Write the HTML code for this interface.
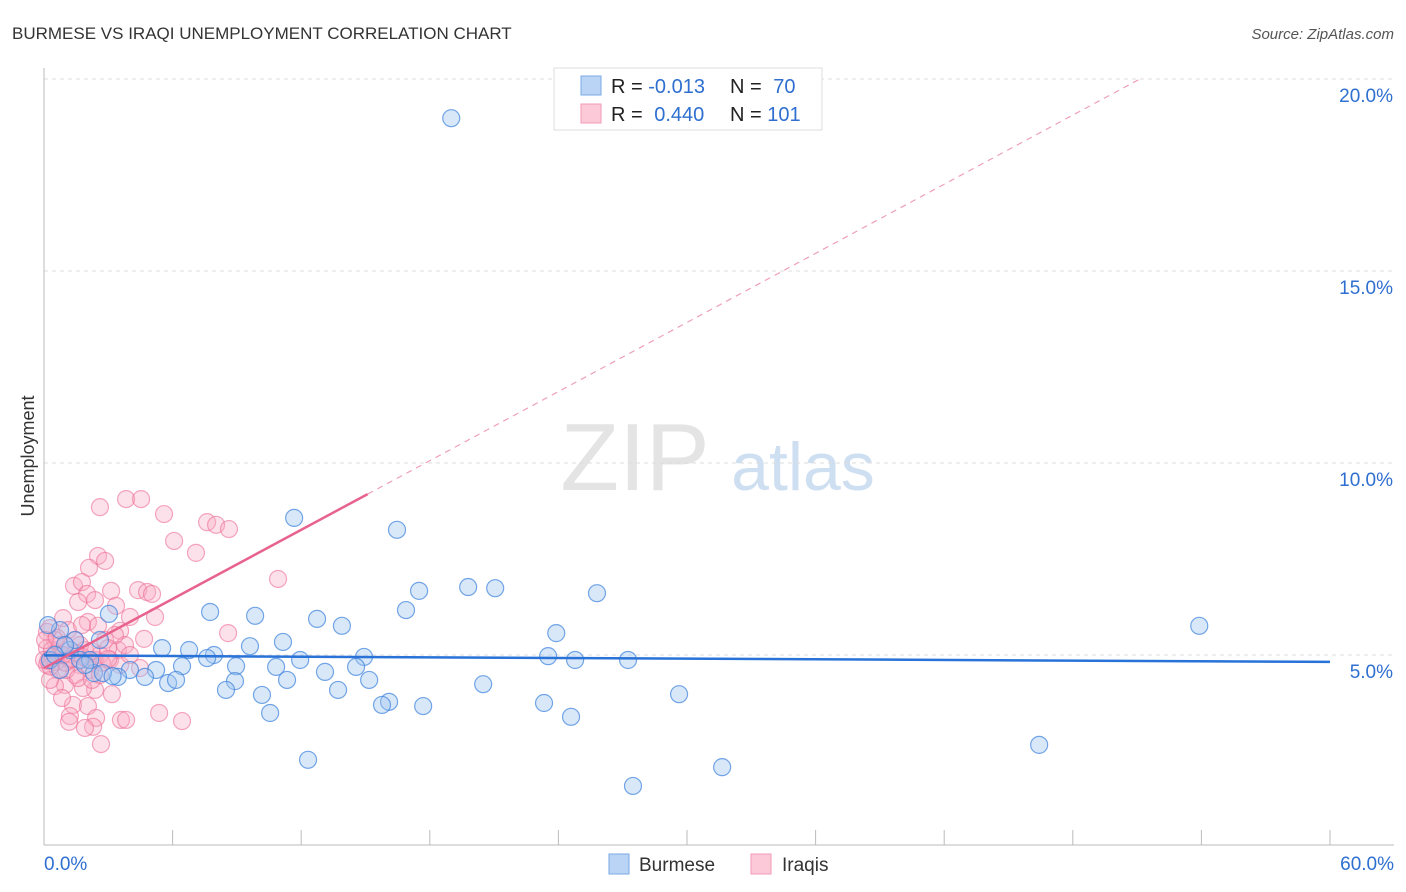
<!DOCTYPE html>
<html><head><meta charset="utf-8"><style>
body{margin:0;background:#fff;font-family:"Liberation Sans",sans-serif;}
#wrap{position:relative;width:1406px;height:892px;overflow:hidden;}
svg text{font-family:"Liberation Sans",sans-serif;}
</style></head><body>
<div id="wrap">
<svg id="chart" width="1406" height="892">
  <text x="12" y="39" font-size="17" fill="#333">BURMESE VS IRAQI UNEMPLOYMENT CORRELATION CHART</text>
  <text x="1394" y="39" font-size="15" fill="#555" font-style="italic" text-anchor="end">Source: ZipAtlas.com</text>
  <text x="34" y="456" font-size="18" fill="#333" text-anchor="middle" transform="rotate(-90 34 456)">Unemployment</text>
  <g>
    <text x="635" y="490" font-size="96" fill="#e4e4e4" font-family="Liberation Serif" text-anchor="middle">ZIP</text>
    <text x="803" y="490" font-size="68" fill="#cfdff2" text-anchor="middle">atlas</text>
  </g>
  <g id="grid"></g>
  <g id="axes"></g>
  <g id="pts"></g>
  <g id="trend"></g>
  <g>
    <rect x="554" y="68" width="268" height="62" fill="#fff" stroke="#ddd"/>
    <rect x="581" y="76" width="20" height="19" fill="#b9d4f5" stroke="#7aaae6"/>
    <rect x="581" y="104" width="20" height="19" fill="#fcc9d8" stroke="#f09ab4"/>
    <text x="611" y="93" font-size="20" fill="#222">R = <tspan fill="#2e6fd0">-0.013</tspan></text>
    <text x="730" y="93" font-size="20" fill="#222">N = <tspan fill="#2e6fd0" dx="6">70</tspan></text>
    <text x="611" y="121" font-size="20" fill="#222">R = <tspan fill="#2e6fd0" dx="6">0.440</tspan></text>
    <text x="730" y="121" font-size="20" fill="#222">N = <tspan fill="#2e6fd0">101</tspan></text>
  </g>
  <g>
    <rect x="609" y="854" width="20" height="20" fill="#b9d4f5" stroke="#7aaae6"/>
    <text x="639" y="871" font-size="19" fill="#333">Burmese</text>
    <rect x="751" y="854" width="20" height="20" fill="#fcc9d8" stroke="#f09ab4"/>
    <text x="782" y="871" font-size="19" fill="#333">Iraqis</text>
  </g>
</svg>
</div>
<script>
const yTicks=[5,10,15,20];
const yTickLabels=["5.0%","10.0%","15.0%","20.0%"];
const xTickLabels=["0.0%","60.0%"];
const burmeseX=[19.0,11.67,16.47,19.79,21.05,17.5,25.8,16.89,7.75,9.85,3.03,12.74,13.9,23.9,53.9,11.15,9.61,5.51,6.77,7.93,8.96,11.95,14.93,23.52,24.78,27.25,10.83,6.44,5.23,7.61,13.11,14.56,4.01,2.33,3.45,4.71,5.79,6.16,8.91,11.34,15.17,20.49,8.49,10.17,13.72,29.63,16.1,15.77,17.69,23.33,10.55,24.59,46.43,12.32,31.64,27.48,2.61,0.75,1.21,0.28,1.68,2.15,0.19,0.75,2.75,1.45,0.98,0.51,1.91,3.2];
const burmeseY=[18.98,8.57,8.26,6.77,6.74,6.67,6.61,6.17,6.12,6.02,6.07,5.94,5.76,5.57,5.76,5.34,5.23,5.18,5.13,5.0,4.71,4.87,4.95,4.97,4.87,4.87,4.69,4.71,4.61,4.92,4.56,4.69,4.61,4.53,4.43,4.43,4.27,4.35,4.32,4.35,4.35,4.24,4.09,3.96,4.09,3.98,3.78,3.70,3.67,3.75,3.49,3.39,2.66,2.27,2.08,1.59,5.39,5.65,5.13,4.87,4.87,4.87,5.78,4.61,4.53,5.39,5.26,5.0,4.74,4.45];
const iraqiX=[2.61,3.83,4.53,5.6,7.61,8.03,8.63,6.07,7.09,2.52,2.85,2.1,1.4,1.77,3.13,4.39,4.81,5.04,2.01,1.59,10.92,0.89,2.05,2.52,4.01,5.18,3.55,4.67,8.59,0.28,0.51,0.98,1.45,1.91,2.61,3.45,3.78,1.21,1.68,0.28,0.65,0.75,2.38,3.08,3.55,4.48,1.45,2.15,0.98,0.51,2.38,3.17,1.82,1.35,2.05,1.21,2.43,2.29,1.91,1.17,3.59,3.83,5.37,6.44,2.66,0.14,0.14,0.14,0.37,0.75,1.12,1.68,2.05,2.85,3.31,4.01,0.05,0.28,0.84,0.0,0.56,1.03,1.59,2.24,2.61,2.99,1.77,2.38,3.36,0.4,1.0,1.5,0.3,0.6,2.7,1.3,0.9,0.2,1.8,2.2,3.0];
const iraqiY=[8.85,9.06,9.06,8.67,8.46,8.39,8.28,7.97,7.66,7.58,7.45,7.27,6.8,6.9,6.67,6.69,6.64,6.59,6.59,6.38,6.98,5.96,5.86,5.76,5.99,5.99,5.63,5.42,5.57,5.70,5.39,5.26,5.39,5.13,5.0,5.13,5.26,4.87,4.74,4.87,4.61,5.0,4.87,4.87,4.74,4.66,4.48,4.61,4.22,4.19,4.09,3.98,4.14,3.70,3.67,3.41,3.36,3.13,3.10,3.26,3.31,3.31,3.49,3.28,2.68,5.60,5.18,4.74,5.13,5.26,5.65,5.26,4.87,5.39,5.52,5.0,5.39,4.35,3.88,4.87,4.82,4.61,4.40,4.35,4.48,5.18,5.78,6.43,6.28,4.95,4.8,5.05,4.7,5.45,4.8,4.9,5.0,4.85,4.95,5.1,4.9];
const blueTrend=[4.99,4.82];
const pinkTrend=[4.66,0.30];

const NS="http://www.w3.org/2000/svg";
const X0=44,X1=1330,Y0=847,PXY=38.4;
const sx=v=>X0+v/60*(X1-X0);
const sy=v=>Y0-v*PXY;
function mk(tag,attrs,parent){const e=document.createElementNS(NS,tag);for(const k in attrs)e.setAttribute(k,attrs[k]);parent.appendChild(e);return e;}
const grid=document.getElementById('grid'),axes=document.getElementById('axes'),pts=document.getElementById('pts'),trend=document.getElementById('trend');
yTicks.forEach((t,i)=>{
  const l=mk('line',{x1:X0,x2:1394,y1:sy(t),y2:sy(t),stroke:'#ddd','stroke-dasharray':'4,4'},grid);
  
  
  const tx=mk('text',{x:1393,y:sy(t)+23,'font-size':19,fill:'#2e6fd0','text-anchor':'end'},axes);
  tx.textContent=yTickLabels[i];
  
  
});
const ax=mk('line',{x1:X0,x2:X0,y1:68,y2:845,stroke:'#bbb'},axes);


const bx=mk('line',{x1:X0,x2:1394,y1:845,y2:845,stroke:'#bbb'},axes);


for(let i=0;i<=10;i++){
  const tk=mk('line',{x1:sx(i*6),x2:sx(i*6),y1:830,y2:845,stroke:'#bbb'},axes);
  
  
}
const xl0=mk('text',{x:44,y:870,'font-size':19,fill:'#2e6fd0'},axes);xl0.textContent=xTickLabels[0];


const xl1=mk('text',{x:1394,y:870,'font-size':19,fill:'#2e6fd0','text-anchor':'end'},axes);xl1.textContent=xTickLabels[1];



iraqiX.forEach((x,i)=>{
  const c=mk('circle',{cx:sx(x),cy:sy(iraqiY[i]),r:8.5,fill:'rgba(248,170,195,0.35)',stroke:'rgba(236,110,150,0.6)','stroke-width':1.2},pts);
  
  
});
burmeseX.forEach((x,i)=>{
  const c=mk('circle',{cx:sx(x),cy:sy(burmeseY[i]),r:8.5,fill:'rgba(160,198,240,0.4)',stroke:'rgba(60,130,220,0.7)','stroke-width':1.2},pts);
  
  
});
const bl=mk('line',{x1:sx(0),y1:sy(blueTrend[0]),x2:sx(60),y2:sy(blueTrend[1]),stroke:'#2872d8','stroke-width':2.5},trend);


const pf=x=>pinkTrend[0]+pinkTrend[1]*x;
const xs=15.1,xe=(20-pinkTrend[0])/pinkTrend[1];
const ps=mk('line',{x1:sx(0),y1:sy(pf(0)),x2:sx(xs),y2:sy(pf(xs)),stroke:'#e8628e','stroke-width':2.5},trend);


const pd=mk('line',{x1:sx(xs),y1:sy(pf(xs)),x2:sx(xe),y2:sy(20),stroke:'#eea0b8','stroke-width':1.2,'stroke-dasharray':'6,5'},trend);


</script>
</body></html>
